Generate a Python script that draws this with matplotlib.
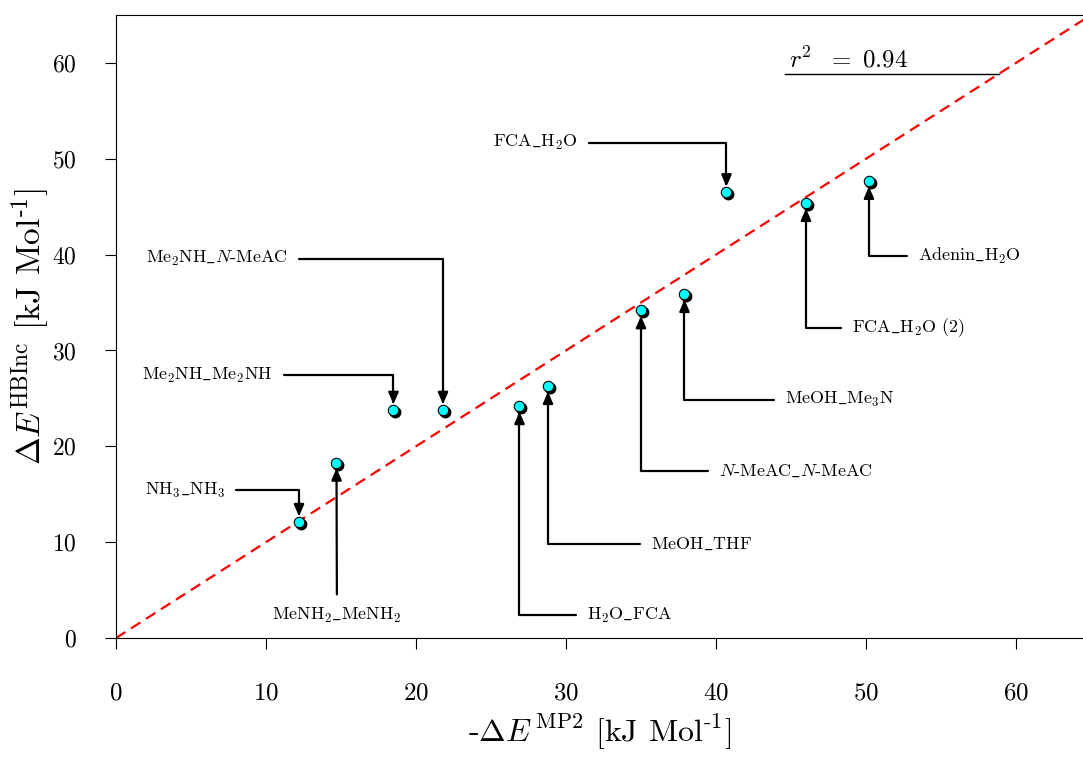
import numpy as np
import matplotlib
matplotlib.use("Agg")
import matplotlib.pyplot as plt
import matplotlib.transforms as mtransforms

plt.rcParams['font.family'] = 'serif'
plt.rcParams['font.serif'] = ['cmr10', 'DejaVu Serif']
plt.rcParams['mathtext.fontset'] = 'cm'
plt.rcParams['axes.formatter.use_mathtext'] = True
plt.rcParams['axes.unicode_minus'] = False

# complexes and their interaction energies [kJ/mol]
names = ['NH$_3$_NH$_3$', 'MeNH$_2$_MeNH$_2$', 'Me$_2$NH_Me$_2$NH',
         'Me$_2$NH_$N$-MeAC', 'H$_2$O_FCA', 'MeOH_THF',
         '$N$-MeAC_$N$-MeAC', 'MeOH_Me$_3$N', 'FCA_H$_2$O',
         'FCA_H$_2$O (2)', 'Adenin_H$_2$O']
e_mp2 = [12.2, 14.7, 18.5, 21.8, 26.9, 28.8, 35.0, 37.9, 40.7, 46.0, 50.2]
e_hbinc = [12.1, 18.3, 23.8, 23.8, 24.2, 26.3, 34.2, 35.9, 46.5, 45.4, 47.7]
r2 = 0.94

# where each label sits
lab_x = [7.27, 14.73, 10.47, 11.47, 31.4, 35.67, 40.2, 44.6, 30.8, 49.07, 53.47]
lab_y = [15.4, 2.4, 27.44, 39.55, 2.4, 9.81, 17.43, 24.84, 51.65, 32.35, 39.86]
lab_ha = ['right', 'center', 'right', 'right', 'left', 'left', 'left', 'left',
          'right', 'left', 'left']


def tex_underscores(s):
    # cmr10 has no '_' glyph, so put the underscores outside $..$ into mathtext
    parts = s.split('$')
    for k in range(0, len(parts), 2):
        parts[k] = parts[k].replace('_', r'$\_$')
    return '$'.join(parts).replace('$$', '')


fig = plt.figure(figsize=(10.83, 7.6), dpi=100)
ax = fig.add_axes([116/1083, 122/760, 967/1083, 623/760])

# 1:1 line
xx = np.array([0, 70])
ax.plot(xx, xx, color='red', lw=1.6, ls=(0, (5, 3)), zorder=1)

# points with drop shadow
shadow = mtransforms.offset_copy(ax.transData, fig=fig, x=2, y=-2, units='dots')
ax.plot(e_mp2, e_hbinc, 'o', color='black', ms=7.5, transform=shadow, zorder=3)
ax.plot(e_mp2, e_hbinc, 'o', mfc='#00ffff', mec='black', mew=0.8, ms=7.5, zorder=4)

for i in range(len(names)):
    conn = 'arc3' if lab_ha[i] == 'center' else 'angle,angleA=0,angleB=90,rad=0'
    ax.annotate(tex_underscores(names[i]), xy=(e_mp2[i], e_hbinc[i]),
                xytext=(lab_x[i], lab_y[i]),
                ha=lab_ha[i], va='center', fontsize=13,
                arrowprops=dict(arrowstyle='-|>,head_length=0.7,head_width=0.3',
                                connectionstyle=conn, color='black', lw=1.6,
                                shrinkA=6, shrinkB=4, mutation_scale=10),
                zorder=2)

# r^2 with underline running to the 1:1 line
ax.plot([44.6, 58.85], [58.85, 58.85], color='black', lw=1)
ax.text(44.9, 60.4, r'$r^2\ \ =\ %.2f$' % r2,
        fontsize=18, ha='left', va='center')

ax.set_xlim(0, 64.47)
ax.set_ylim(0, 65)
ax.set_xticks(range(0, 70, 10))
ax.set_yticks(range(0, 70, 10))
ax.spines['right'].set_visible(False)
ax.tick_params(axis='x', direction='out', length=8, pad=24, labelsize=18)
ax.tick_params(axis='y', direction='out', length=8, pad=20, labelsize=17)
ax.set_xlabel(r'-$\Delta E^{\,\mathrm{MP2}}$ [kJ Mol$^{\text{-1}}$]', fontsize=23, labelpad=6)
ax.set_ylabel(r'$\Delta E^{\mathrm{HBInc}}$ [kJ Mol$^{\text{-1}}$]', fontsize=24, labelpad=0)

plt.savefig('out.png', dpi=100)
